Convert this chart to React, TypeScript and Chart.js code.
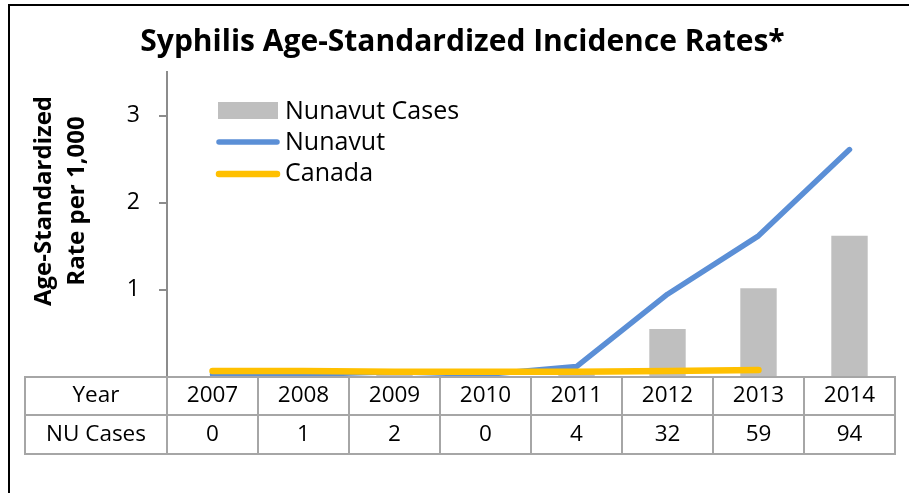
import React, { useEffect, useRef } from 'react';
import { Chart, registerables } from 'chart.js';

Chart.register(...registerables);

const TITLE = 'Syphilis Age-Standardized Incidence Rates*';
const Y_TITLE_LINES = ['Age-Standardized', 'Rate per 1,000'];
const years = ['2007', '2008', '2009', '2010', '2011', '2012', '2013', '2014'];
const nuCases = [0, 1, 2, 0, 4, 32, 59, 94];
const nunavutRate = [0.03, 0.03, 0.06, 0.03, 0.12, 0.95, 1.62, 2.61];
const canadaRate = [0.07, 0.07, 0.06, 0.06, 0.06, 0.07, 0.08, null];
const legendLabels = ['Nunavut Cases', 'Nunavut', 'Canada'];
const tableRowLabels = ['Year', 'NU Cases'];

const FONT = '"Open Sans", sans-serif';
const GRAY_BAR = '#bfbfbf';
const BLUE = '#5b8fd6';
const YELLOW = '#ffc000';
const AXIS_GRAY = '#8c8c8c';
const TABLE_GRAY = '#a6a6a6';

export default function App() {
  const ref = useRef<HTMLCanvasElement>(null);

  useEffect(() => {
    const canvas = ref.current;
    if (!canvas) return;

    const overlay = {
      id: 'overlay',
      afterDraw(chart: any) {
        const ctx = chart.ctx as CanvasRenderingContext2D;
        const area = chart.chartArea;
        const xs = chart.scales.x;
        ctx.save();

        // Y axis title (two lines, rotated)
        ctx.fillStyle = '#000';
        ctx.font = `bold 24px ${FONT}`;
        ctx.textAlign = 'center';
        ctx.textBaseline = 'middle';
        ctx.save();
        ctx.translate(44, 201);
        ctx.rotate(-Math.PI / 2);
        Y_TITLE_LINES.forEach((t, i) => ctx.fillText(t, 0, i * 33));
        ctx.restore();

        // Legend
        const lx = area.left;
        const ly = area.top;
        ctx.font = `25px ${FONT}`;
        ctx.textAlign = 'left';
        ctx.fillStyle = GRAY_BAR;
        ctx.fillRect(lx + 51, ly + 30, 60, 17);
        ctx.lineCap = 'round';
        ctx.strokeStyle = BLUE;
        ctx.lineWidth = 5.5;
        ctx.beginPath();
        ctx.moveTo(lx + 52, ly + 70);
        ctx.lineTo(lx + 110, ly + 70);
        ctx.stroke();
        ctx.strokeStyle = YELLOW;
        ctx.lineWidth = 6.5;
        ctx.beginPath();
        ctx.moveTo(lx + 52, ly + 102);
        ctx.lineTo(lx + 110, ly + 102);
        ctx.stroke();
        ctx.fillStyle = '#000';
        legendLabels.forEach((t, i) => ctx.fillText(t, lx + 118, ly + 40 + i * 31));

        // Data table
        const top = area.bottom;
        const r1 = top + 38;
        const r2 = top + 77;
        const tableLeft = 25;
        const n = years.length;
        const centers = years.map((_, i) => xs.getPixelForValue(i));
        const edges: number[] = [area.left];
        for (let i = 1; i < n; i++) edges.push((centers[i - 1] + centers[i]) / 2);
        edges.push(area.right);

        ctx.strokeStyle = TABLE_GRAY;
        ctx.lineWidth = 2;
        ctx.lineCap = 'butt';
        ctx.beginPath();
        [top, r1, r2].forEach((y) => {
          ctx.moveTo(tableLeft, y);
          ctx.lineTo(area.right, y);
        });
        [tableLeft, ...edges].forEach((x) => {
          ctx.moveTo(x, top - 1);
          ctx.lineTo(x, r2 + 1);
        });
        ctx.stroke();

        ctx.fillStyle = '#000';
        ctx.font = `22.5px ${FONT}`;
        ctx.textAlign = 'center';
        ctx.textBaseline = 'middle';
        const labelX = (tableLeft + area.left) / 2;
        ctx.fillText(tableRowLabels[0], labelX, (top + r1) / 2);
        ctx.fillText(tableRowLabels[1], labelX, (r1 + r2) / 2);
        years.forEach((y, i) => {
          ctx.fillText(y, centers[i], (top + r1) / 2);
          ctx.fillText(String(nuCases[i]), centers[i], (r1 + r2) / 2);
        });

        // Outer frame
        ctx.strokeStyle = '#000';
        ctx.lineWidth = 2;
        ctx.beginPath();
        ctx.moveTo(9, chart.height);
        ctx.lineTo(9, 5);
        ctx.lineTo(chart.width, 5);
        ctx.stroke();

        ctx.restore();
      },
    };

    const chart = new Chart(canvas, {
      type: 'bar',
      data: {
        labels: years,
        datasets: [
          {
            type: 'line',
            label: 'Canada',
            data: canadaRate,
            borderColor: YELLOW,
            backgroundColor: YELLOW,
            borderWidth: 6.5,
            pointRadius: 0,
            tension: 0,
            borderCapStyle: 'round',
            borderJoinStyle: 'round',
            yAxisID: 'y',
            order: 1,
          },
          {
            type: 'line',
            label: 'Nunavut',
            data: nunavutRate,
            borderColor: BLUE,
            backgroundColor: BLUE,
            borderWidth: 5.5,
            pointRadius: 0,
            tension: 0,
            borderCapStyle: 'round',
            borderJoinStyle: 'round',
            yAxisID: 'y',
            order: 2,
          },
          {
            type: 'bar',
            label: 'Nunavut Cases',
            data: nuCases,
            backgroundColor: GRAY_BAR,
            barPercentage: 0.4,
            categoryPercentage: 1,
            yAxisID: 'y1',
            order: 3,
          },
        ] as any,
      },
      options: {
        responsive: false,
        animation: false,
        layout: { padding: { left: 30, right: 14, top: 0, bottom: 116 } },
        plugins: {
          legend: { display: false },
          tooltip: { enabled: false },
          title: {
            display: true,
            text: TITLE,
            color: '#000',
            font: { family: FONT, size: 30, weight: 'bold' },
            padding: { top: 24, bottom: 12 },
          },
        },
        scales: {
          x: { display: false, offset: true },
          y: {
            position: 'left',
            min: 0,
            max: 3.5,
            ticks: {
              stepSize: 1,
              includeBounds: false,
              padding: 19,
              color: '#000',
              font: { family: FONT, size: 23 },
              callback: (v: any) => (v === 0 ? '' : v),
            },
            grid: {
              drawOnChartArea: false,
              drawTicks: true,
              tickLength: 8,
              color: AXIS_GRAY,
              lineWidth: 2,
            },
            border: { display: true, color: AXIS_GRAY, width: 2 },
            afterFit: (s: any) => {
              s.width = 137;
            },
          },
          y1: { display: false, min: 0, max: 203 },
        },
      } as any,
      plugins: [overlay],
    });

    return () => chart.destroy();
  }, []);

  return (
    <div style={{ position: 'absolute', left: 0, top: 0, width: 909, height: 493, background: '#fff' }}>
      <canvas ref={ref} width={909} height={493} style={{ display: 'block', width: 909, height: 493 }} />
    </div>
  );
}
